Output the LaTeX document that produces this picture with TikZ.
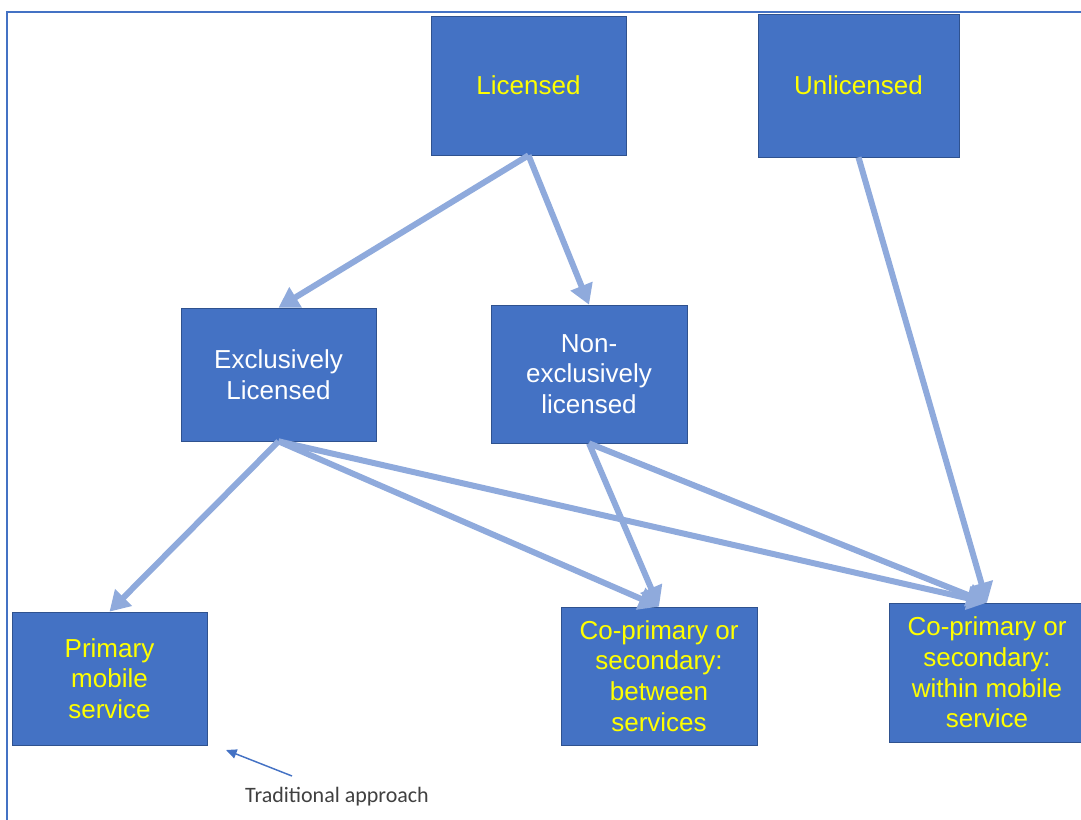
\documentclass[tikz,border=0pt]{standalone}
\usepackage{fontspec}
\setmainfont{Liberation Sans}
\newfontfamily\notefont{Carlito}
\usetikzlibrary{arrows.meta}
\definecolor{boxfill}{RGB}{68,114,196}
\definecolor{boxline}{RGB}{47,82,143}
\definecolor{arrowblue}{RGB}{143,170,220}
\definecolor{labelyellow}{RGB}{255,255,0}
\definecolor{notegray}{RGB}{64,64,64}
\tikzset{every picture/.style={line width=0.75pt}}
\tikzset{
  box/.style={draw=boxline, fill=boxfill, line width=0.5pt, inner sep=0pt, align=center,
    font=\fontsize{19.5}{23}\selectfont},
  conn/.style={draw=arrowblue, line width=4.5pt, -{Triangle[length=15pt,width=17pt]}},
  notearrow/.style={draw=boxfill, line width=1.1pt, -{Triangle[length=8pt,width=7pt]}},
}

\begin{document}
\begin{tikzpicture}[x=0.75pt,y=0.75pt,yscale=-1,xscale=1]
\useasboundingbox (0,0) rectangle (1081,820);

%Shape: Frame
\draw [color=boxfill, line width=1.5pt]  (7,825) -- (7,12) -- (1086,12) ;

%Shape: Rectangle [licensed]
\node [box, text=labelyellow, minimum width=146.25pt, minimum height=104.25pt] (licensed) at (528.5,85.5) {Licensed};
%Shape: Rectangle [unlicensed]
\node [box, text=labelyellow, minimum width=150.75pt, minimum height=107.25pt] (unlicensed) at (858.5,85.5) {Unlicensed};
%Shape: Rectangle [exclusive]
\node [box, text=white, minimum width=146.25pt, minimum height=99.75pt] (exclusive) at (278.5,374.5) {Exclusively\\Licensed};
%Shape: Rectangle [nonexclusive]
\node [box, text=white, minimum width=147pt, minimum height=103.5pt] (nonexclusive) at (589,374) {Non-\\exclusively\\licensed};
%Shape: Rectangle [primary]
\node [box, text=labelyellow, minimum width=146.25pt, minimum height=99.75pt] (primary) at (109.5,678.5) {Primary\\mobile\\service};
%Shape: Rectangle [between]
\node [box, text=labelyellow, minimum width=147pt, minimum height=103.5pt] (between) at (659,676) {Co-primary or\\secondary:\\between\\services};
%Shape: Rectangle [within]
\node [box, text=labelyellow, minimum width=147pt, minimum height=104.25pt] (within) at (987,672.5) {Co-primary or\\secondary:\\within mobile\\service};

%Straight Lines
\draw [conn]   (licensed.south) -- (exclusive.north) ;
\draw [conn]   (licensed.south) -- (nonexclusive.north) ;
\draw [conn]   (unlicensed.south) -- (within.north) ;
\draw [conn]   (exclusive.south) -- (primary.north) ;
\draw [conn]   (exclusive.south) -- (between.north) ;
\draw [conn]   (exclusive.south) -- (within.north) ;
\draw [conn]   (nonexclusive.south) -- (between.north) ;
\draw [conn]   (nonexclusive.south) -- (within.north) ;

% Text Node
\node [text=notegray, font=\notefont\fontsize{16.5}{19}\selectfont, inner sep=0.75pt] (traditional) at (337,797) {Traditional approach};
\coordinate (tradtail) at (292,776);
\coordinate (tradtip) at (226,750);
%Straight Lines
\draw [notearrow]   (tradtail) -- (tradtip) ;

\end{tikzpicture}
\end{document}
